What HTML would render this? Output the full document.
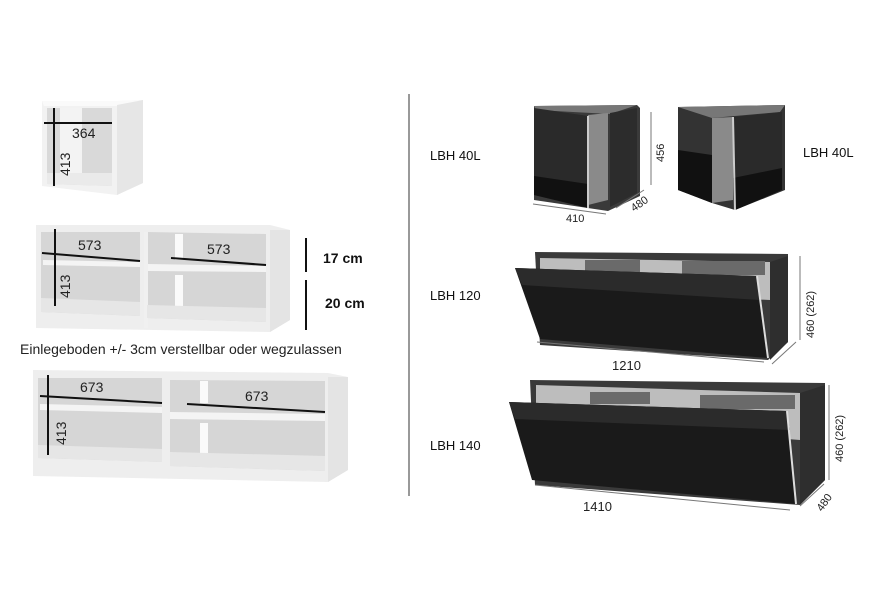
<!DOCTYPE html>
<html><head><meta charset="utf-8"><style>
html,body{margin:0;padding:0;background:#fff;}
svg{display:block;font-family:"Liberation Sans",sans-serif;}
</style></head><body>
<svg width="888" height="589" viewBox="0 0 888 589" xmlns="http://www.w3.org/2000/svg">
<rect width="888" height="589" fill="#fff"/>
<!-- small cube -->
<polygon points="42,101 117,101 143,100 143,183 117,195 42,186" fill="#f2f2f2"/>
<polygon points="42,101 117,101 143,100 119,106 44,106" fill="#fafafa"/>
<polygon points="117,105 143,100 143,183 117,195" fill="#e6e6e6"/>
<polygon points="47,108 112,108 112,186 47,184" fill="#d9d9d9"/>
<rect x="60" y="108" width="22" height="72" fill="#f3f3f3"/>
<polygon points="47,173 112,173 112,186 47,184" fill="#eaeaea"/>
<line x1="44" y1="123" x2="112" y2="123" stroke="#111" stroke-width="2"/>
<line x1="54" y1="108" x2="54" y2="186" stroke="#111" stroke-width="2"/>
<text x="72" y="138" font-size="14" fill="#222">364</text>
<text x="0" y="0" font-size="14" fill="#222" transform="translate(70,176) rotate(-90)">413</text>
<!-- middle shelf -->
<polygon points="36,225 270,225 290,230 290,320 270,332 36,328" fill="#eeeeee"/>
<polygon points="270,230 290,230 290,320 270,332" fill="#e4e4e4"/>
<polygon points="41,232 140,232 140,316 41,312" fill="#d6d6d6"/>
<polygon points="147,232 266,234 266,322 147,318" fill="#d6d6d6"/>
<rect x="144" y="232" width="4" height="96" fill="#f0f0f0"/>
<rect x="175" y="234" width="8" height="26" fill="#fafafa"/>
<rect x="175" y="275" width="8" height="34" fill="#fafafa"/>
<polygon points="43,260 140,262 140,267 43,265" fill="#f4f4f4"/>
<polygon points="148,264 266,266 266,272 148,271" fill="#f4f4f4"/>
<polygon points="41,298 140,302 140,316 41,312" fill="#e6e6e6"/>
<polygon points="147,305 266,308 266,322 147,318" fill="#e6e6e6"/>
<line x1="42" y1="253" x2="140" y2="261" stroke="#111" stroke-width="2"/>
<line x1="171" y1="258" x2="266" y2="265" stroke="#111" stroke-width="2"/>
<line x1="55" y1="229" x2="55" y2="306" stroke="#111" stroke-width="2"/>
<text x="78" y="250" font-size="14" fill="#222">573</text>
<text x="207" y="254" font-size="14" fill="#222">573</text>
<text x="0" y="0" font-size="14" fill="#222" transform="translate(70,298) rotate(-90)">413</text>
<line x1="306" y1="238" x2="306" y2="272" stroke="#111" stroke-width="2"/>
<line x1="306" y1="280" x2="306" y2="330" stroke="#111" stroke-width="2"/>
<text x="323" y="263" font-size="14" font-weight="bold" fill="#111">17 cm</text>
<text x="325" y="308" font-size="14" font-weight="bold" fill="#111">20 cm</text>
<text x="20" y="354" font-size="14" fill="#222">Einlegeboden +/- 3cm verstellbar oder wegzulassen</text>
<!-- bottom shelf -->
<polygon points="33,370 328,373 348,377 348,470 328,482 33,476" fill="#eeeeee"/>
<polygon points="328,377 348,377 348,470 328,482" fill="#e4e4e4"/>
<polygon points="38,378 162,378 162,462 38,458" fill="#d6d6d6"/>
<polygon points="170,380 325,381 325,471 170,466" fill="#d6d6d6"/>
<rect x="200" y="381" width="8" height="22" fill="#fafafa"/>
<rect x="200" y="423" width="8" height="34" fill="#fafafa"/>
<polygon points="40,404 162,407 162,413 40,410" fill="#f4f4f4"/>
<polygon points="170,412 325,414 325,421 170,419" fill="#f4f4f4"/>
<polygon points="38,445 162,449 162,462 38,458" fill="#e6e6e6"/>
<polygon points="170,452 325,456 325,471 170,466" fill="#e6e6e6"/>
<line x1="40" y1="396" x2="162" y2="403" stroke="#111" stroke-width="2"/>
<line x1="187" y1="404" x2="325" y2="412" stroke="#111" stroke-width="2"/>
<line x1="48" y1="375" x2="48" y2="455" stroke="#111" stroke-width="2"/>
<text x="80" y="392" font-size="14" fill="#222">673</text>
<text x="245" y="401" font-size="14" fill="#222">673</text>
<text x="0" y="0" font-size="14" fill="#222" transform="translate(66,445) rotate(-90)">413</text>
<!-- divider -->
<line x1="409" y1="94" x2="409" y2="496" stroke="#999" stroke-width="2"/>
<!-- right labels -->
<text x="430" y="160" font-size="13" fill="#111">LBH 40L</text>
<text x="803" y="157" font-size="13" fill="#111">LBH 40L</text>
<text x="430" y="300" font-size="13" fill="#111">LBH 120</text>
<text x="430" y="450" font-size="13" fill="#111">LBH 140</text>
<!-- cube 1 -->
<polygon points="534,106 637,105 640,108 640,196 608,211 534,200" fill="#3a3a3a"/>
<polygon points="534,106 637,105 610,114 536,110" fill="#777"/>
<polygon points="588,115 608,113 608,200 588,205" fill="#8a8a8a"/>
<polygon points="610,113 637,108 637,193 610,207" fill="#2c2c2c"/>
<polygon points="534,108 588,116 588,208 534,195" fill="#2a2a2a"/>
<polygon points="534,176 588,184 588,208 534,195" fill="#111"/>
<line x1="588" y1="116" x2="588" y2="208" stroke="#ccc" stroke-width="2"/>
<line x1="533" y1="204" x2="606" y2="214" stroke="#777"/>
<line x1="616" y1="208" x2="644" y2="190" stroke="#777"/>
<line x1="651" y1="112" x2="651" y2="185" stroke="#777"/>
<text x="566" y="222" font-size="11" fill="#222">410</text>
<text x="0" y="0" font-size="11" fill="#222" transform="translate(634,212) rotate(-35)">480</text>
<text x="0" y="0" font-size="11" fill="#222" transform="translate(664,162) rotate(-90)">456</text>
<!-- cube 2 -->
<polygon points="678,107 785,105 785,190 735,210 712,203 678,190" fill="#333"/>
<polygon points="678,107 785,105 780,112 712,118" fill="#777"/>
<polygon points="712,118 733,117 733,200 712,203" fill="#8a8a8a"/>
<polygon points="733,117 782,112 782,190 735,210" fill="#2a2a2a"/>
<polygon points="733,178 782,168 782,190 735,210" fill="#111"/>
<polygon points="678,150 712,155 712,203 678,190" fill="#111"/>
<line x1="733" y1="117" x2="735" y2="210" stroke="#ccc" stroke-width="2"/>
<!-- LBH 120 -->
<polygon points="535,252 788,254 788,342 768,360 540,345" fill="#3a3a3a"/>
<polygon points="540,258 770,262 770,300 540,290" fill="#bdbdbd"/>
<rect x="585" y="260" width="55" height="12" fill="#6a6a6a"/>
<rect x="682" y="261" width="83" height="14" fill="#6a6a6a"/>
<polygon points="770,262 788,256 788,342 770,360" fill="#2e2e2e"/>
<polygon points="515,268 757,276 768,358 540,339" fill="#1a1a1a"/>
<polygon points="515,268 757,276 760,300 522,285" fill="#2b2b2b"/>
<line x1="757" y1="276" x2="768" y2="358" stroke="#ddd" stroke-width="2"/>
<line x1="537" y1="342" x2="764" y2="362" stroke="#777"/>
<line x1="772" y1="364" x2="796" y2="342" stroke="#777"/>
<line x1="800" y1="256" x2="800" y2="340" stroke="#777"/>
<text x="612" y="370" font-size="13" fill="#222">1210</text>
<text x="0" y="0" font-size="11" fill="#222" transform="translate(814,338) rotate(-90)">460 (262)</text>
<!-- LBH 140 -->
<polygon points="530,380 825,383 825,480 800,505 535,485" fill="#3a3a3a"/>
<polygon points="536,385 800,393 800,440 536,420" fill="#bdbdbd"/>
<rect x="590" y="392" width="60" height="12" fill="#6a6a6a"/>
<rect x="700" y="395" width="95" height="14" fill="#6a6a6a"/>
<polygon points="800,393 825,385 825,480 800,505" fill="#2e2e2e"/>
<polygon points="509,402 787,411 796,504 532,480" fill="#1a1a1a"/>
<polygon points="509,402 787,411 790,430 515,419" fill="#2b2b2b"/>
<line x1="787" y1="411" x2="796" y2="504" stroke="#ddd" stroke-width="2"/>
<line x1="535" y1="485" x2="790" y2="510" stroke="#777"/>
<line x1="800" y1="506" x2="824" y2="484" stroke="#777"/>
<line x1="829" y1="385" x2="829" y2="480" stroke="#777"/>
<text x="583" y="511" font-size="13" fill="#222">1410</text>
<text x="0" y="0" font-size="11" fill="#222" transform="translate(843,462) rotate(-90)">460 (262)</text>
<text x="0" y="0" font-size="11" fill="#222" transform="translate(822,512) rotate(-55)">480</text>
</svg>
</body></html>
